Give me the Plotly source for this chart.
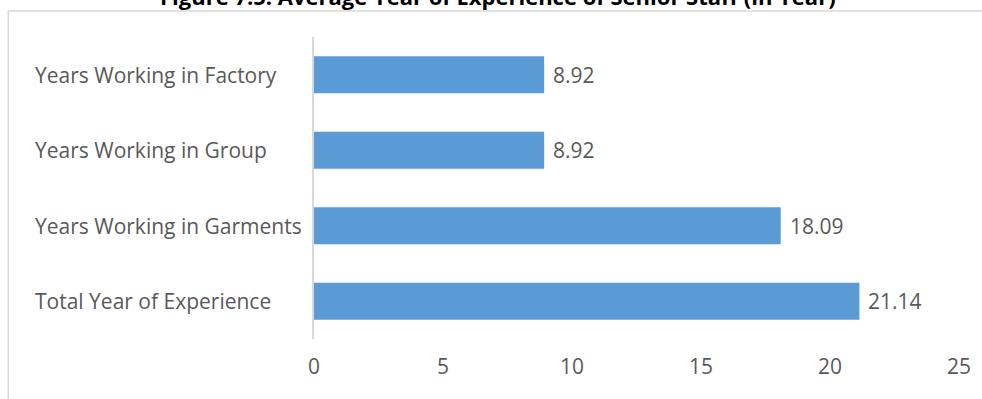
import plotly.graph_objects as go

# Average experience of senior staff, in years
categories = [
    "Total Year of Experience",
    "Years Working in Garments",
    "Years Working in Group",
    "Years Working in Factory",
]
values = [21.14, 18.09, 8.92, 8.92]
value_labels = ["21.14", "18.09", "8.92", "8.92"]
x_ticks = [0, 5, 10, 15, 20, 25]
title_text = "Figure 7.5: Average Year of Experience of Senior Staff (in Year)"

BAR_COLOR = "#5b9bd5"
TEXT_COLOR = "#595959"
FONT = "Open Sans"
LABEL_SIZE = 21

fig = go.Figure(
    go.Bar(
        x=values,
        y=categories,
        orientation="h",
        marker=dict(color=BAR_COLOR, line=dict(width=0)),
        width=0.49,
        hoverinfo="x+y",
    )
)

# value labels just past the end of each bar
for cat, val, lab in zip(categories, values, value_labels):
    fig.add_annotation(
        x=val, xref="x", xanchor="left", xshift=7,
        y=cat, yref="y",
        text=lab, showarrow=False,
        font=dict(family=FONT, size=LABEL_SIZE, color=TEXT_COLOR),
    )

# left-aligned category labels
for cat in categories:
    fig.add_annotation(
        x=-0.435, xref="paper", xanchor="left",
        y=cat, yref="y",
        text=cat, showarrow=False,
        font=dict(family=FONT, size=LABEL_SIZE, color=TEXT_COLOR),
    )

# chart heading, clipped by the top of the page
fig.add_annotation(
    x=0.286, xref="paper", xanchor="center",
    y=1.136, yref="paper", yanchor="middle",
    text="<b>" + title_text + "</b>", showarrow=False,
    font=dict(family=FONT, size=22, color="#000000"),
)

# chart frame
fig.add_shape(
    type="path",
    path="M -0.474 -1.5 L -0.474 1.086 L 1.5 1.086",
    xref="paper", yref="paper",
    line=dict(color="#d9d9d9", width=1.5),
)

fig.update_layout(
    width=982, height=399,
    margin=dict(l=314, r=23, t=37, b=60),
    paper_bgcolor="white",
    plot_bgcolor="white",
    showlegend=False,
    xaxis=dict(
        range=[0, 25],
        tickvals=x_ticks,
        showgrid=False,
        zeroline=False,
        showline=False,
        tickfont=dict(family=FONT, size=LABEL_SIZE, color=TEXT_COLOR),
        ticks="",
        ticklabelstandoff=13,
        fixedrange=True,
    ),
    yaxis=dict(
        categoryorder="array",
        categoryarray=categories,
        showticklabels=False,
        showgrid=False,
        zeroline=False,
        showline=True,
        linecolor="#d9d9d9",
        linewidth=1.5,
        ticks="",
        fixedrange=True,
    ),
)

fig.write_html("out.html")
